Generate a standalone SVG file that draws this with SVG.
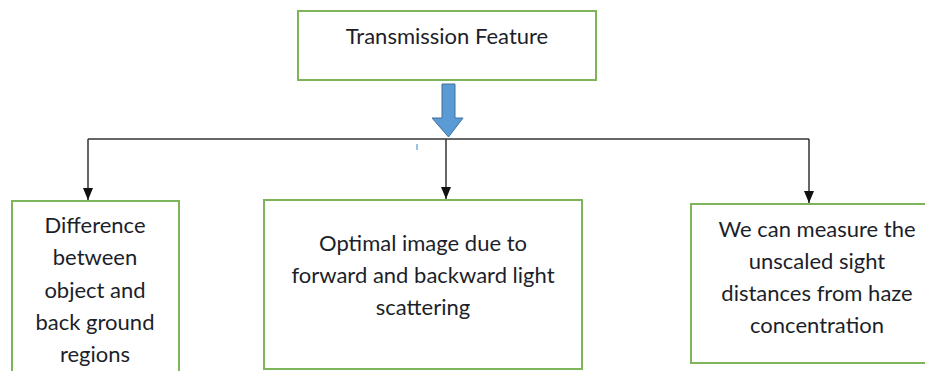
<svg xmlns="http://www.w3.org/2000/svg" width="925" height="371" viewBox="0 0 925 371">
  <style>
    .box { fill: #ffffff; stroke: #7fb55a; stroke-width: 2; }
    .lbl { font-family: Lato, "Open Sans", sans-serif; font-size: 22px; fill: #1c1f2a; text-anchor: middle; }
    .wire { fill: none; stroke: #333333; stroke-width: 1.5; }
  </style>
  <defs>
    <marker id="head" viewBox="0 0 10 12" refX="5" refY="12" markerWidth="10" markerHeight="12" markerUnits="userSpaceOnUse" orient="0">
      <path d="M0,0 L10,0 L5,12 Z" fill="#111111"/>
    </marker>
  </defs>
  <rect width="925" height="371" fill="#ffffff"/>

  <g id="connectors">
    <path class="wire" d="M88,139 H809"/>
    <path class="wire" d="M88,139 V200" marker-end="url(#head)"/>
    <path class="wire" d="M446,139 V199" marker-end="url(#head)"/>
    <path class="wire" d="M809,139 V203" marker-end="url(#head)"/>
    <!-- block arrow from the top box -->
    <path d="M442,84 H455 V118 H463 L448.5,137 L432,118 H442 Z" fill="#5b9bd5" stroke="#41719c" stroke-width="1"/>
    <line x1="417" y1="144" x2="417" y2="150" stroke="#5b9bd5" stroke-width="1.2"/>
  </g>

  <g id="node-transmission">
    <rect class="box" x="298" y="11" width="298" height="69"/>
    <text class="lbl" x="447" y="44">Transmission Feature</text>
  </g>

  <g id="node-difference">
    <rect class="box" x="12" y="201" width="167" height="175"/>
    <text class="lbl" x="95" y="233">Difference</text>
    <text class="lbl" x="95" y="265">between</text>
    <text class="lbl" x="95" y="298">object and</text>
    <text class="lbl" x="95" y="330">back ground</text>
    <text class="lbl" x="95" y="362">regions</text>
  </g>

  <g id="node-optimal">
    <rect class="box" x="264" y="200" width="318" height="169"/>
    <text class="lbl" x="423" y="251">Optimal image due to</text>
    <text class="lbl" x="423" y="283">forward and backward light</text>
    <text class="lbl" x="423" y="315">scattering</text>
  </g>

  <g id="node-measure">
    <rect class="box" x="691" y="204" width="240" height="159"/>
    <text class="lbl" x="817" y="237">We can measure the</text>
    <text class="lbl" x="817" y="269">unscaled sight</text>
    <text class="lbl" x="817" y="301">distances from haze</text>
    <text class="lbl" x="817" y="333">concentration</text>
  </g>
</svg>
